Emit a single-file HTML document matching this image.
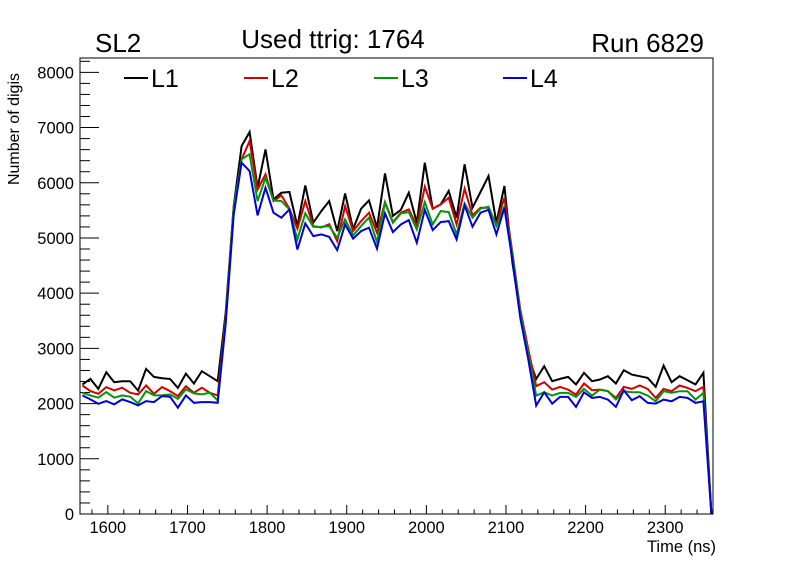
<!DOCTYPE html>
<html><head><meta charset="utf-8"><style>
html,body{margin:0;padding:0;background:#fff;}
svg{display:block;font-family:"Liberation Sans",Arial,sans-serif;}
</style></head><body>
<svg id="chart" width="796" height="572" viewBox="0 0 796 572">
<rect x="0" y="0" width="796" height="572" fill="#fff"/>
<text x="95" y="52" font-size="26">SL2</text>
<text x="333" y="48" font-size="26" text-anchor="middle">Used ttrig: 1764</text>
<text x="704" y="52" font-size="26" text-anchor="end">Run 6829</text>
<text x="0" y="0" font-size="16" text-anchor="end" transform="translate(19,73) rotate(-90)">Number of digis</text>
<text x="716" y="552" font-size="16.5" text-anchor="end">Time (ns)</text>
<g id="axes"></g>
<g id="series"></g>
<g id="legend"></g>
<rect x="80" y="58" width="633" height="456" fill="none" stroke="#000" stroke-width="1"/>
</svg>
<script>
const xStart = 1568;
const binWidth = 10;
const xTicks = [1600,1700,1800,1900,2000,2100,2200,2300];
const yTicks = [0,1000,2000,3000,4000,5000,6000,7000,8000];
const seriesNames = ["L1","L2","L3","L4"];
const seriesColors = ["#000000","#d40000","#00960a","#0000d8"];
const l1 = [2345,2448,2266,2568,2387,2405,2405,2236,2629,2484,2460,2448,2285,2544,2363,2586,2496,2405,3650,5578,6665,6920,5911,6605,5699,5820,5832,5215,5953,5277,5487,5668,5124,5808,5160,5530,5680,5186,6170,5400,5510,5820,5277,6364,5530,5608,5850,5367,6334,5548,5832,6122,5277,5941,4551,3645,2858,2448,2677,2405,2448,2484,2345,2557,2405,2436,2496,2363,2605,2526,2496,2466,2303,2689,2387,2496,2424,2345,2557,0];
const l2 = [2327,2226,2178,2299,2238,2287,2196,2166,2327,2178,2299,2226,2136,2315,2196,2287,2196,2148,3580,5560,6425,6757,5880,6153,5668,5771,5530,5168,5668,5215,5190,5250,4943,5578,5124,5305,5457,5095,5650,5288,5457,5518,5215,5929,5530,5608,5730,5246,5893,5409,5548,5548,5246,5730,4733,3705,2979,2315,2387,2254,2303,2254,2163,2363,2242,2254,2224,2103,2303,2266,2327,2266,2103,2266,2224,2327,2285,2224,2303,0];
const l3 = [2196,2148,2106,2208,2106,2148,2124,2003,2226,2148,2148,2166,2087,2257,2184,2166,2196,2057,3520,5540,6425,6515,5668,6092,5680,5668,5518,4974,5445,5200,5200,5215,5004,5336,5046,5215,5367,4925,5639,5275,5445,5469,5155,5650,5246,5487,5469,5064,5626,5367,5530,5566,5215,5566,4700,3650,2900,2145,2205,2145,2194,2194,2121,2266,2145,2254,2224,2073,2224,2205,2205,2145,2042,2224,2194,2224,2224,2073,2194,0];
const l4 = [2148,2075,1997,2045,1985,2075,2027,1967,2045,2027,2136,2124,1925,2148,2015,2027,2027,2015,3450,5420,6364,6212,5409,5911,5457,5367,5518,4792,5264,5034,5064,5022,4780,5246,4986,5124,5186,4805,5445,5106,5246,5324,4913,5510,5143,5288,5305,4974,5590,5204,5457,5510,5064,5548,4600,3550,2800,1964,2205,2000,2121,2121,1940,2205,2103,2121,2073,1940,2242,2061,2133,2012,2000,2073,2042,2121,2103,2012,2042,0];
const seriesValues = [l1,l2,l3,l4];

const NS="http://www.w3.org/2000/svg";
const X0=80,X1=713,Y0=514,Y1=58,XMIN=1565,XMAX=2360,YMIN=0,YMAX=8260;
function sx(v){return X0+(v-XMIN)/(XMAX-XMIN)*(X1-X0);}
function sy(v){return Y0-(v-YMIN)/(YMAX-YMIN)*(Y0-Y1);}
function mk(tag,attrs,parent){const e=document.createElementNS(NS,tag);for(const k in attrs)e.setAttribute(k,attrs[k]);parent.appendChild(e);return e;}

const axes=document.getElementById('axes');
for(let v=1580; v<=XMAX; v+=20){
  const major = xTicks.indexOf(v)>=0;
  const t=mk('line',{x1:sx(v),x2:sx(v),y1:Y0,y2:Y0-(major?9:4.5),stroke:'#000','stroke-width':1},axes);
  
  
}
xTicks.forEach(v=>{
  const t=mk('text',{x:sx(v),y:533,'font-size':16.5,'text-anchor':'middle'},axes);
  t.textContent=v;
  
  
});
for(let v=0; v<=YMAX; v+=200){
  const major = v%1000===0;
  const t=mk('line',{x1:X0,x2:X0+(major?19:10),y1:sy(v),y2:sy(v),stroke:'#000','stroke-width':1},axes);
  
  
}
yTicks.forEach(v=>{
  const t=mk('text',{x:74,y:sy(v)+6,'font-size':16.5,'text-anchor':'end'},axes);
  t.textContent=v;
  
  
});

const sg=document.getElementById('series');
seriesValues.forEach((vals,i)=>{
  const pts=vals.map((v,k)=>sx(xStart+k*binWidth).toFixed(1)+','+sy(v).toFixed(1)).join(' ');
  const p=mk('polyline',{points:pts,fill:'none',stroke:seriesColors[i],'stroke-width':2,'stroke-linejoin':'miter'},sg);
  
  
});

const lg=document.getElementById('legend');
const legX=[124,244,374,503];
seriesNames.forEach((n,i)=>{
  const l=mk('line',{x1:legX[i],x2:legX[i]+24,y1:78,y2:78,stroke:seriesColors[i],'stroke-width':2},lg);
  
  
  const t=mk('text',{x:legX[i]+27,y:87,'font-size':25},lg);
  t.textContent=n;
  
  
});
</script>
</body></html>
